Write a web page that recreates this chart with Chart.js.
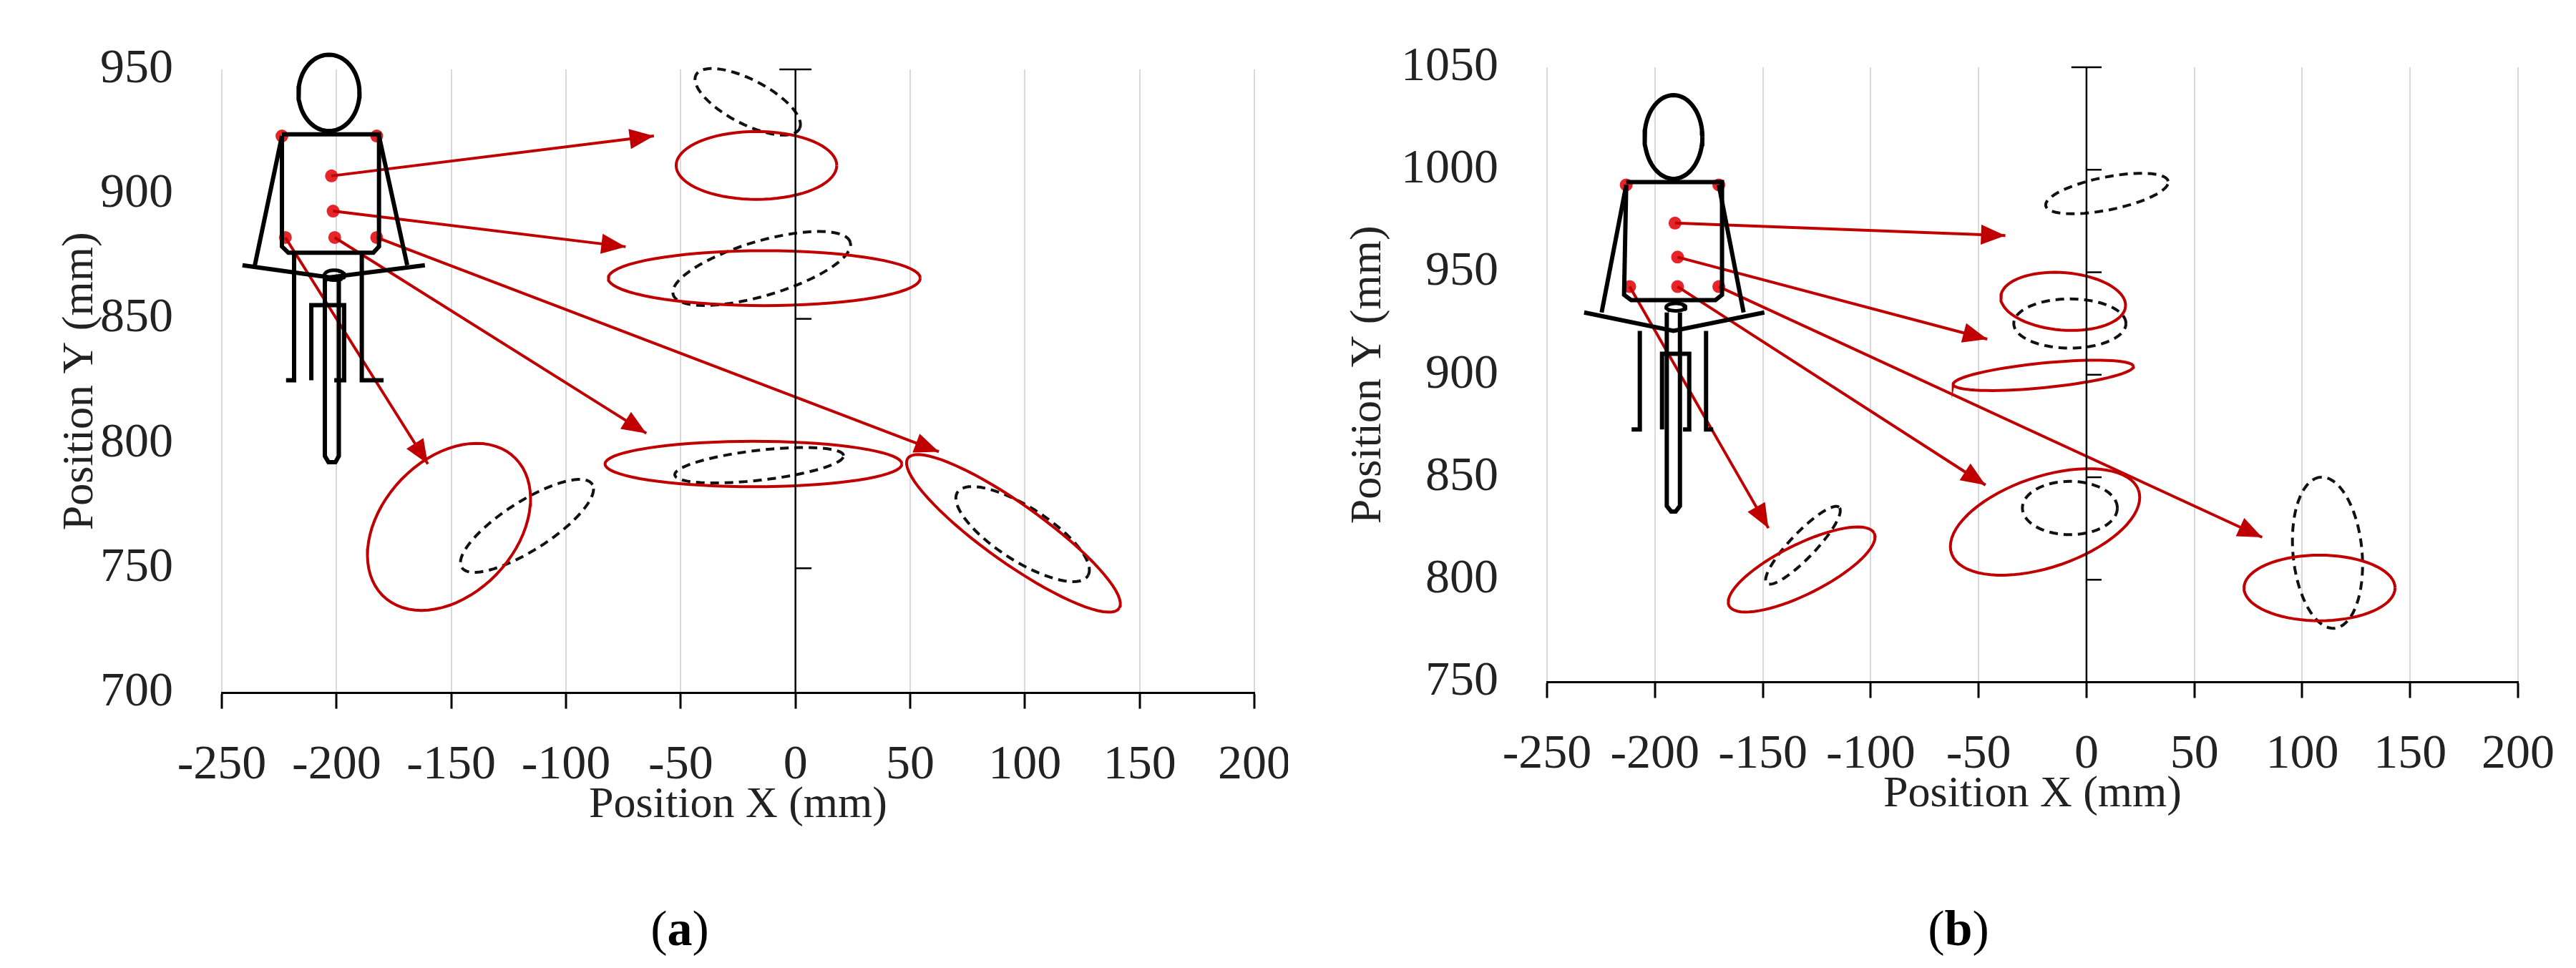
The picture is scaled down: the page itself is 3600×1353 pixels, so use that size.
<!DOCTYPE html>
<html><head><meta charset="utf-8">
<script src="https://cdn.jsdelivr.net/npm/chart.js@4"></script>
<style>
body{margin:0;background:#fff;width:3600px;height:1353px;position:relative;overflow:hidden}
.c{position:absolute;top:0;width:1800px;height:1353px}
.lab{position:absolute;top:1258px;font-family:"Liberation Serif";font-size:70px;transform:translateX(-50%)}
</style></head><body>
<div class="c" style="left:0"><canvas id="ca"></canvas></div>
<div class="c" style="left:1800px"><canvas id="cb"></canvas></div>
<div class="lab" style="left:950px">(<b>a</b>)</div>
<div class="lab" style="left:2737px">(<b>b</b>)</div>
<script>
// ---------- data ----------
const xTicks = [-250,-200,-150,-100,-50,0,50,100,150,200];
const yTicksA = [700,750,800,850,900,950];
const yTicksB = [750,800,850,900,950,1000,1050];
const axisTicksA = [950,850,750];
const axisTicksB = [1050,1000,950,900,850,800];
// ellipses: [cx, cy, rx, ry, angleDeg]
const redEllA = [[-17,911.5,35,13.6,0],[-13.6,866.3,68,11,0],[-18.3,791.8,64.7,9.1,0],[-151,766.6,40,28,40],[95,764,55,12,-33]];
const dashEllA = [[-20.8,937,25,9,-25],[-14.7,870.2,40,11,15],[-15.8,791.3,37,6,6],[-117,767,33,10,30],[99,763.7,33,11,-30]];
const redEllB = [[-10.8,935.8,29,14,-5],[-20,899.7,42,6,6],[-19.2,828.2,46,22,20],[-132,805,38,12,28],[108,796,35,16,0]];
const dashEllB = [[9.5,988.4,29,8,12],[-7.7,925,26,12,0],[-7.7,835,22,13,0],[-131.4,816.8,25,6,48],[111.7,813.2,37,16,95]];
// arrows: [x0,y0,x1,y1]
const arrowsA = [[-202.2,907.3,-61.7,923.3],[-201.5,893.2,-74,878.9],[-222.3,882.6,-160.2,791.8],[-200.8,882.6,-65,804.1],[-182.5,882.6,62.5,796.7]];
const arrowsB = [[-190.7,974,-37.6,967.9],[-189.5,957.4,-46,917.4],[-211.7,943,-147.4,825.2],[-189.5,943,-46.8,846.2],[-170.4,943,81.4,820.7]];
// marker dots
const dotsA = [[-223.8,923.3],[-182.5,923.3],[-202.2,907.3],[-201.5,893.2],[-222.3,882.6],[-200.8,882.6],[-182.5,882.6]];
const dotsB = [[-213.3,992.6],[-170.4,992.6],[-190.7,974],[-189.5,957.4],[-211.7,943],[-189.5,943],[-170.4,943]];
// stick figure polylines
const figA = {
  head:[-203.3,940.6,13.3,15.3,0], seat:[-201,867.5,4.3,2,0],
  lines:[
    [[-223.8,923.3],[-223.8,879],[-221,876.5],[-184,876.5],[-181.5,879],[-181.5,924],[-223.8,924]],
    [[-223.8,923.3],[-235.6,871.5]],[[-181.5,923.3],[-169.2,871.5]],
    [[-241,871.5],[-203,866.6],[-161.5,871.5]],
    [[-218.5,876.5],[-218.5,825.4],[-222,825.4]],[[-189,876.5],[-189,825.4],[-179.5,825.4]],
    [[-211,825.4],[-211,855.5],[-196.7,855.5],[-196.7,825.4],[-201,825.4]],
    [[-205.1,866.6],[-205.1,795],[-203.5,792.5],[-200.5,792.5],[-199,795],[-199,866.6]]
  ]};
const figB = {
  head:[-191.4,1016,13.4,20.4,0], seat:[-190.3,933,4.5,1.8,0],
  lines:[
    [[-213.3,992.6],[-214.3,939],[-211,936.4],[-172,936.4],[-168.9,939],[-168.9,994],[-213.3,994]],
    [[-213.3,992.6],[-224.7,930.4]],[[-170.4,992.6],[-158.9,930.4]],
    [[-232.8,930.4],[-191.4,921.4],[-149.3,930.4]],
    [[-207,921.4],[-207,873.3],[-210.8,873.3]],[[-176.3,921.4],[-176.3,873.3],[-173,873.3]],
    [[-196.7,873.3],[-196.7,910.2],[-184.1,910.2],[-184.1,873.3],[-187,873.3]],
    [[-194.5,930.4],[-194.5,836],[-192.5,833.3],[-190.4,833.3],[-188.4,836],[-188.4,930.4]]
  ]};

// ---------- helpers ----------
function ellipse(p){const [cx,cy,rx,ry,a]=p;const t=a*Math.PI/180;const pts=[];
  for(let i=0;i<=72;i++){const u=i/72*2*Math.PI;const x=rx*Math.cos(u),y=ry*Math.sin(u);
    pts.push({x:cx+x*Math.cos(t)-y*Math.sin(t),y:cy+x*Math.sin(t)+y*Math.cos(t)});}return pts;}
const RED='#c00000';
function line(data,color,w,dash,extra){return Object.assign({data,showLine:true,borderColor:color,borderWidth:w,borderDash:dash||[],pointRadius:0,fill:false,tension:0,clip:false},extra||{});}
const arrowPlugin={id:'arrows',afterDatasetsDraw(chart){const ctx=chart.ctx;
  chart.data.datasets.forEach((ds,i)=>{if(!ds.arrow)return;const m=chart.getDatasetMeta(i).data;
    const p0=m[0],p1=m[1];const ang=Math.atan2(p1.y-p0.y,p1.x-p0.x);const L=34,W=14;
    ctx.save();ctx.fillStyle=RED;ctx.beginPath();ctx.moveTo(p1.x,p1.y);
    ctx.lineTo(p1.x-L*Math.cos(ang)+W*Math.sin(ang),p1.y-L*Math.sin(ang)-W*Math.cos(ang));
    ctx.lineTo(p1.x-L*Math.cos(ang)-W*Math.sin(ang),p1.y-L*Math.sin(ang)+W*Math.cos(ang));
    ctx.closePath();ctx.fill();ctx.restore();});}};

function build(id,yTicks,axisTicks,redE,dashE,arrows,dots,fig,pad){
  const ymin=yTicks[0],ymax=yTicks[yTicks.length-1];
  const ds=[];
  ds.push(line([{x:0,y:ymin},{x:0,y:ymax}],'#000',2.5));
  axisTicks.forEach((t,i)=>ds.push(line(i===0?[{x:-7,y:t},{x:7,y:t}]:[{x:0,y:t},{x:7,y:t}],'#000',2.5)));
  fig.lines.forEach(l=>ds.push(line(l.map(p=>({x:p[0],y:p[1]})),'#000',6)));
  ds.push(line(ellipse(fig.head),'#000',6));
  ds.push(line(ellipse(fig.seat),'#000',5));
  redE.forEach(e=>ds.push(line(ellipse(e),RED,4)));
  dashE.forEach(e=>ds.push(line(ellipse(e),'#111',4,[12,8])));
  arrows.forEach(a=>ds.push(line([{x:a[0],y:a[1]},{x:a[2],y:a[3]}],RED,4,[],{arrow:true})));
  ds.push({data:dots.map(p=>({x:p[0],y:p[1]})),pointRadius:9,pointBackgroundColor:'#e5252a',pointBorderWidth:0,showLine:false,clip:false});
  const font={family:'Liberation Serif',size:68,lineHeight:1};
  new Chart(document.getElementById(id),{type:'scatter',data:{datasets:ds},plugins:[arrowPlugin],
    options:{responsive:true,maintainAspectRatio:false,animation:false,events:[],
      layout:{padding:{left:0,right:pad.right,top:pad.top,bottom:pad.bottom}},
      plugins:{legend:{display:false},tooltip:{enabled:false}},
      scales:{
        x:{type:'linear',min:-250,max:200,
          afterBuildTicks:s=>{s.ticks=xTicks.map(v=>({value:v}));},
          afterFit:s=>{s.paddingRight=0;},
          grid:{color:'#d9d9d9',lineWidth:2,tickColor:'#000',tickLength:22,tickWidth:3},
          border:{color:'#000',width:3},
          ticks:{font,color:'#222',padding:46,maxRotation:0,callback:v=>String(v)},
          title:{display:true,text:'Position X (mm)',font:{family:'Liberation Serif',size:62},color:'#222',padding:{top:-62,bottom:0}}},
        y:{type:'linear',min:ymin,max:ymax,
          afterBuildTicks:s=>{s.ticks=yTicks.map(v=>({value:v}));},
          afterFit:s=>{s.width=pad.left;},
          grid:{display:false},border:{display:false},
          ticks:{font,color:'#222',padding:60,callback:v=>String(v)},
          title:{display:true,text:'Position Y (mm)',font:{family:'Liberation Serif',size:62},color:'#222',padding:{top:76,bottom:0}}}
      }}});
}
build('ca',yTicksA,axisTicksA,redEllA,dashEllA,arrowsA,dotsA,figA,{left:310,right:47,top:97,bottom:190});
build('cb',yTicksB,axisTicksB,redEllB,dashEllB,arrowsB,dotsB,figB,{left:362,right:81,top:92,bottom:205});
</script></body></html>
